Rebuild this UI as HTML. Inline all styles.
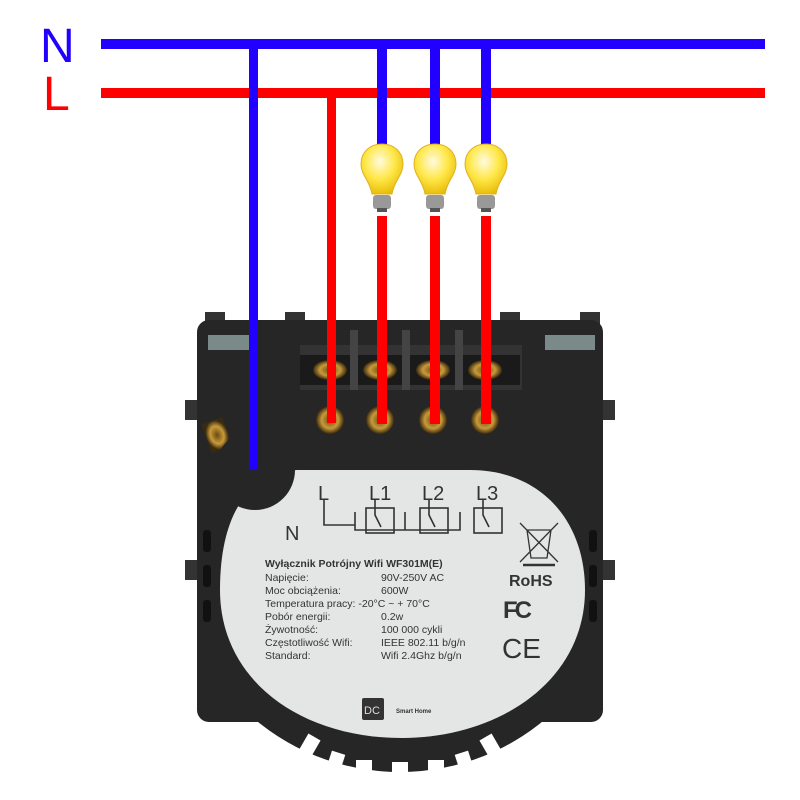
<!DOCTYPE html>
<html><head><meta charset="utf-8"><style>
html,body{margin:0;padding:0;background:#fff;}
svg{display:block;font-family:"Liberation Sans",sans-serif;}
</style></head><body>
<svg width="800" height="800" viewBox="0 0 800 800" xmlns="http://www.w3.org/2000/svg">
<defs>
<radialGradient id="bulb" cx="0.45" cy="0.35" r="0.7">
<stop offset="0" stop-color="#fffbe0"/><stop offset="0.5" stop-color="#ffe84a"/><stop offset="1" stop-color="#e6b800"/>
</radialGradient>
<radialGradient id="brass" cx="0.5" cy="0.5" r="0.5">
<stop offset="0" stop-color="#6a4a10"/><stop offset="0.6" stop-color="#c89a3a"/><stop offset="1" stop-color="#3a2a10"/>
</radialGradient>
<clipPath id="bodyc"><rect x="197" y="300" width="406" height="500"/></clipPath>
</defs>
<text x="40" y="62" font-size="48" fill="#2200ff">N</text>
<text x="43" y="110" font-size="48" fill="#ff0000">L</text>
<rect x="205" y="312" width="20" height="20" fill="#333"/>
<rect x="285" y="312" width="20" height="20" fill="#333"/>
<rect x="500" y="312" width="20" height="20" fill="#333"/>
<rect x="580" y="312" width="20" height="20" fill="#333"/>
<rect x="185" y="400" width="20" height="20" fill="#333"/>
<rect x="595" y="400" width="20" height="20" fill="#333"/>
<rect x="185" y="560" width="15" height="20" fill="#333"/>
<rect x="600" y="560" width="15" height="20" fill="#333"/>
<rect x="197" y="320" width="406" height="402" rx="12" fill="#262626"/>
<rect x="208" y="335" width="50" height="15" fill="#7a8a88"/>
<rect x="545" y="335" width="50" height="15" fill="#7a8a88"/>
<ellipse cx="400" cy="560" rx="220" ry="212" fill="#262626" clip-path="url(#bodyc)"/>
<g fill="#fff">
<rect x="300" y="735" width="14" height="30" transform="rotate(30 307 750)"/>
<rect x="327" y="752" width="14" height="30" transform="rotate(18 334 767)"/>
<rect x="356" y="760" width="16" height="30"/>
<rect x="392" y="762" width="16" height="30"/>
<rect x="428" y="760" width="16" height="30"/>
<rect x="459" y="752" width="14" height="30" transform="rotate(-18 466 767)"/>
<rect x="486" y="735" width="14" height="30" transform="rotate(-30 493 750)"/>
</g>
<g fill="#111">
<rect x="203" y="530" width="8" height="22" rx="3"/><rect x="203" y="565" width="8" height="22" rx="3"/><rect x="203" y="600" width="8" height="22" rx="3"/>
<rect x="589" y="530" width="8" height="22" rx="3"/><rect x="589" y="565" width="8" height="22" rx="3"/><rect x="589" y="600" width="8" height="22" rx="3"/>
</g>
<rect x="300" y="345" width="222" height="45" fill="#333"/>
<rect x="300" y="355" width="220" height="30" fill="#1a1a1a"/>
<g fill="#444"><rect x="350" y="330" width="8" height="60"/><rect x="402" y="330" width="8" height="60"/><rect x="455" y="330" width="8" height="60"/></g>
<g fill="url(#brass)">
<ellipse cx="330" cy="370" rx="17" ry="10"/><ellipse cx="380" cy="370" rx="17" ry="10"/>
<ellipse cx="433" cy="370" rx="17" ry="10"/><ellipse cx="485" cy="370" rx="17" ry="10"/>
<circle cx="330" cy="420" r="14"/><circle cx="380" cy="420" r="14"/>
<circle cx="433" cy="420" r="14"/><circle cx="485" cy="420" r="14"/>
<circle cx="255" cy="465" r="13"/>
<rect x="206" y="420" width="22" height="30" transform="rotate(-20 217 435)"/>
</g>
<path d="M220 590 C220 500 260 470 300 470 H470 C540 470 585 520 585 590 C585 680 500 738 402 738 C300 738 220 680 220 590 Z" fill="#e4e6e6"/>
<circle cx="255" cy="470" r="40" fill="#262626"/>
<g fill="none" stroke="#333" stroke-width="1.6">
<path d="M324 500 V525 H355 V512 M355 518 V530 H405 V512 M405 518 V530 H460 V512"/>
<rect x="366" y="508" width="28" height="25"/>
<rect x="420" y="508" width="28" height="25"/>
<rect x="474" y="508" width="28" height="25"/>
<path d="M375 500 V515 L381 527 M429 500 V515 L435 527 M483 500 V515 L489 527"/>
<path d="M520 523 L558 562 M558 523 L520 562 M527 530 H551 L547 558 H531 Z" stroke-width="1.3"/>
<path d="M523 565 H555" stroke-width="2.5"/>
</g>
<g fill="#333" font-size="20">
<text x="318" y="500">L</text><text x="369" y="500">L1</text><text x="422" y="500">L2</text><text x="476" y="500">L3</text>
<text x="285" y="540">N</text>
</g>
<text x="265" y="567" font-size="10.5" font-weight="bold" fill="#333">Wyłącznik Potrójny Wifi  WF301M(E)</text>
<g font-size="10.5" fill="#333">
<text x="265" y="581">Napięcie:</text><text x="381" y="581">90V-250V AC</text>
<text x="265" y="594">Moc obciążenia:</text><text x="381" y="594">600W</text>
<text x="265" y="607">Temperatura pracy: -20°C ~ + 70°C</text>
<text x="265" y="620">Pobór energii:</text><text x="381" y="620">0.2w</text>
<text x="265" y="633">Żywotność:</text><text x="381" y="633">100 000 cykli</text>
<text x="265" y="646">Częstotliwość Wifi:</text><text x="381" y="646">IEEE 802.11 b/g/n</text>
<text x="265" y="659">Standard:</text><text x="381" y="659">Wifi 2.4Ghz b/g/n</text>
</g>
<text x="509" y="586" font-size="16" font-weight="bold" fill="#333">RoHS</text>
<text x="503" y="618" font-size="24" font-weight="bold" fill="#333" letter-spacing="-3">FC</text>
<text x="502" y="658" font-size="28" fill="#333">CE</text>
<rect x="362" y="698" width="22" height="22" rx="2" fill="#333"/>
<text x="364" y="714" font-size="11" fill="#ddd">DC</text>
<text x="396" y="713" font-size="6" font-weight="bold" fill="#333">Smart Home</text>
<rect x="101" y="39" width="664" height="10" fill="#2200ff"/>
<rect x="101" y="88" width="664" height="10" fill="#ff0000"/>
<rect x="249" y="44" width="9" height="425" fill="#2200ff"/>
<rect x="327" y="93" width="9" height="330" fill="#ff0000"/>
<g fill="#2200ff">
<rect x="377" y="44" width="10" height="100"/><rect x="430" y="44" width="10" height="100"/><rect x="481" y="44" width="10" height="100"/>
</g>
<g fill="#ff0000">
<rect x="377" y="216" width="10" height="208"/><rect x="430" y="216" width="10" height="208"/><rect x="481" y="216" width="10" height="208"/>
</g>
<g id="b1">
<path d="M382 144 C394 144 403 152 403 164 C403 175 394 181 392 194 H372 C370 181 361 175 361 164 C361 152 370 144 382 144Z" fill="url(#bulb)" stroke="#e0b020" stroke-width="1"/>
<rect x="373" y="195" width="18" height="14" rx="3" fill="#999"/>
<rect x="377" y="208" width="10" height="4" fill="#555"/>
</g>
<use href="#b1" x="53"/>
<use href="#b1" x="104"/>
</svg>
</body></html>
